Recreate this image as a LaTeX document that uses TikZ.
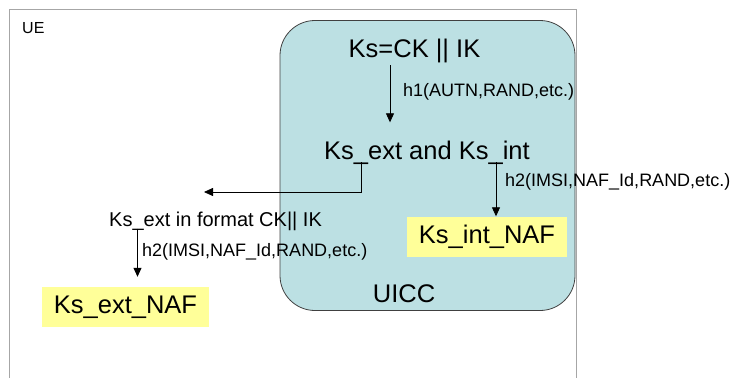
\documentclass[tikz,border=0pt]{standalone}
\usepackage{fontspec}
\setmainfont{Liberation Sans}
\usetikzlibrary{arrows.meta}
\definecolor{uiccfill}{HTML}{BCE0E3}
\definecolor{nafyellow}{HTML}{FFFF99}
\definecolor{framegray}{HTML}{A6A6A6}
\tikzstyle{bigtext} = [inner sep=0pt, anchor=base, font=\fontsize{25.5}{30}\selectfont]
\tikzstyle{midtext} = [inner sep=0pt, anchor=base west, font=\fontsize{20}{24}\selectfont]
\tikzstyle{hashlabel} = [inner sep=0pt, anchor=base west, font=\fontsize{18}{22}\selectfont]
\tikzstyle{nafbox} = [rectangle, fill=nafyellow, minimum height=40pt, inner sep=0pt, font=\fontsize{25.5}{30}\selectfont]
\tikzstyle{arrow} = [line width=0.8pt, -{Triangle[length=9pt, width=8pt]}]

\begin{document}
\begin{tikzpicture}[x=1pt, y=-1pt]
\useasboundingbox (0,0) rectangle (731,378);

% UE frame
\draw [framegray, line width=0.8pt] (9,378) -- (9,9) -- (576,9) -- (576,378);
\node (ue) [inner sep=0pt, anchor=base west, font=\fontsize{16}{19}\selectfont] at (22,33) {UE};

% UICC
\node (uicc) [rectangle, rounded corners=35pt, draw=black!75, line width=0.8pt, fill=uiccfill, minimum width=295pt, minimum height=290pt] at (427.5,165.5) {};
\node (uicclabel) [bigtext] at (404,302) {UICC};

% Nodes
\node (ks) [bigtext] at (414.5,57) {Ks=CK || IK};
\node (derive) [bigtext] at (427,159) {Ks\_ext and Ks\_int};
\node (extfmt) [midtext] at (109,226.5) {Ks\_ext in format CK|| IK};
\node (intnaf) [nafbox, minimum width=160pt] at (487,236.5) {Ks\_int\_NAF};
\node (extnaf) [nafbox, minimum width=167pt] at (125.5,307) {Ks\_ext\_NAF};

% Labels
\node (h1) [hashlabel] at (403,96) {h1(AUTN,RAND,etc.)};
\node (h2int) [hashlabel] at (505,186) {h2(IMSI,NAF\_Id,RAND,etc.)};
\node (h2ext) [hashlabel] at (142,256) {h2(IMSI,NAF\_Id,RAND,etc.)};

% Split points
\coordinate (extsplit) at (361,162);
\coordinate (intsplit) at (496,162);
\coordinate (fmtsplit) at (137.5,228.5);
\coordinate (extend) at (204,192);

% Arrows
\draw [arrow, shorten <=2.5pt, shorten >=18pt] ([xshift=-24.5pt]ks.south) -- ([xshift=-24.5pt]ks.south |- derive.north);
\draw [arrow] (extsplit) |- (extend);
\draw [arrow] (intsplit) -- (intsplit |- intnaf.north);
\draw [arrow, shorten >=10pt] (fmtsplit) -- (fmtsplit |- extnaf.north);

\end{tikzpicture}
\end{document}
